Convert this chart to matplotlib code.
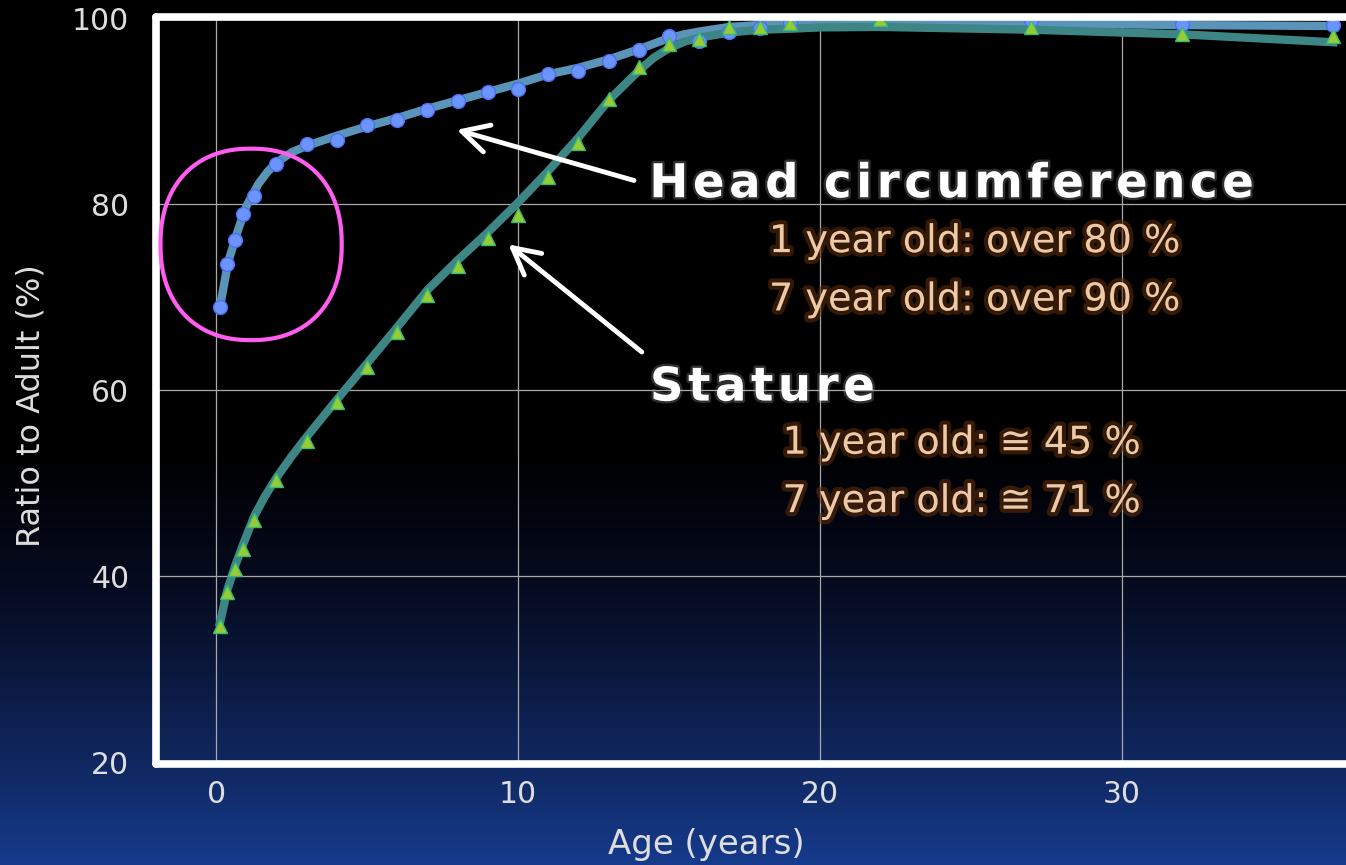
import numpy as np
import matplotlib.pyplot as plt
import matplotlib.patheffects as pe
from matplotlib.patches import Polygon

# measured points, ratio to adult size (%)
head_age = [0.13, 0.37, 0.64, 0.88, 1.27, 2, 3, 4, 5, 6, 7, 8, 9, 10, 11, 12, 13,
            14, 15, 16, 17, 18, 19, 22, 27, 32, 37]
head_pct = [69.0, 73.6, 76.2, 79.0, 80.9, 84.4, 86.5, 86.9, 88.5, 89.1, 90.2, 91.1,
            92.1, 92.4, 94.05, 94.4, 95.4, 96.6, 98.1, 97.6, 98.6, 99.0, 99.6, 100.3,
            99.8, 99.4, 99.35]
stat_age = [0.13, 0.37, 0.64, 0.88, 1.27, 2, 3, 4, 5, 6, 7, 8, 9, 10, 11, 12, 13,
            14, 15, 16, 17, 18, 19, 22, 27, 32, 37]
stat_pct = [34.6, 38.25, 40.8, 42.9, 46.1, 50.3, 54.5, 58.7, 62.5, 66.3, 70.3, 73.4,
            76.4, 78.9, 83.0, 86.6, 91.3, 94.8, 97.3, 97.8, 99.1, 99.1, 99.5, 99.97,
            99.07, 98.3, 98.1]

# smoothed trend curves as drawn on the slide
head_fit_age = [0.13, 0.4, 0.7, 1.0, 1.4, 1.7, 2, 2.5, 3, 4, 5, 6, 7, 8, 9, 10, 11,
                12, 13, 14, 14.5, 15, 15.5, 16, 17, 18, 19, 22, 27, 32, 37]
head_fit_pct = [69.0, 73.8, 77.0, 79.8, 82.2, 83.5, 84.5, 85.6, 86.3, 87.4, 88.4,
                89.3, 90.3, 91.2, 92.1, 93.0, 94.0, 94.7, 95.6, 96.7, 97.3, 97.9,
                98.3, 98.6, 99.1, 99.3, 99.5, 99.6, 99.5, 99.3, 99.2]
stat_fit_age = [0.13, 0.37, 0.64, 0.88, 1.27, 1.6, 2, 2.5, 3, 4, 5, 6, 7, 8, 9, 10,
                11, 12, 13, 14, 14.5, 15, 15.5, 16, 17, 18, 19, 20, 22, 27, 32, 37]
stat_fit_pct = [35.0, 38.5, 41.2, 43.3, 46.5, 48.5, 50.6, 52.9, 55.0, 59.0, 62.9,
                66.8, 70.8, 74.0, 77.0, 80.2, 83.6, 87.2, 91.2, 94.4, 95.8, 96.8,
                97.5, 97.95, 98.5, 98.8, 98.9, 99.05, 99.1, 98.8, 98.3, 97.45]

x_ticks = [0, 10, 20, 30]
y_ticks = [20, 40, 60, 80, 100]

head_title = "Head circumference"
head_notes = ["1 year old: over 80 %", "7 year old: over 90 %"]
stat_title = "Stature"
stat_notes = ["1 year old: \u2245 45 %", "7 year old: \u2245 71 %"]

W, H = 1346, 865
fig = plt.figure(figsize=(W / 100, H / 100), dpi=100)
fig.patch.set_facecolor('black')

# background: black fading to dark blue at the bottom
bg = fig.add_axes([0, 0, 1, 1], zorder=-10)
t = np.linspace(0, 1, H)
stops = [0.0, 0.52, 0.69, 0.88, 1.0]
cols = np.array([[0, 0, 0], [0, 0, 0], [6, 12, 34], [16, 39, 95], [22, 59, 140]]) / 255
grad = np.stack([np.interp(t, stops, cols[:, k]) for k in range(3)], axis=1)
bg.imshow(np.repeat(grad[:, None, :], 4, axis=1), aspect='auto', extent=[0, 1, 0, 1])
bg.set_axis_off()

left, bottom, top = 156.3, 101.5, 848.3
ax = fig.add_axes([left / W, bottom / H, (W - left) / W, (top - bottom) / H])
ax.set_facecolor('none')
ax.set_xlim(-1.98, 37.42)
ax.set_ylim(19.85, 100.2)
ax.set_xticks(x_ticks)
ax.set_yticks(y_ticks)
ax.tick_params(length=0, labelsize=21.5, labelcolor='#dddddd')
ax.tick_params(axis='x', pad=12)
ax.tick_params(axis='y', pad=19.5)
ax.grid(color='#a8a8a8', lw=0.9)
ax.set_axisbelow(True)
for s in ['left', 'top', 'bottom']:
    ax.spines[s].set_color('white')
    ax.spines[s].set_linewidth(5.5)
    ax.spines[s].set_capstyle('round')
ax.spines['right'].set_visible(False)

ax.set_xlabel('Age (years)', fontsize=24.5, color='#dddddd')
ax.xaxis.set_label_coords(0.462, -0.086)
ax.set_ylabel('Ratio to Adult (%)', fontsize=23, color='#dddddd')
ax.yaxis.set_label_coords(-0.092, 0.479)

ax.plot(head_fit_age, head_fit_pct, color='#5a94b8', lw=6, zorder=2.0,
        solid_joinstyle='round')
ax.plot(stat_fit_age, stat_fit_pct, color='#3e8585', lw=6, zorder=2.05,
        solid_joinstyle='round')
ax.plot(head_age, head_pct, 'o', ms=10, mfc='#6b94ff', mec='#4d6ff0', mew=1, zorder=2.1)
ax.plot(stat_age, stat_pct, '^', ms=10.5, mfc='#99cc33', mec='#33bb77', mew=1, zorder=2.2)

# hand-drawn looking rounded loop around the infant head values
th = np.linspace(0, 2 * np.pi, 200)
n = 2.25
cx, cy, rx, ry = 1.16, 75.7, 3.0, 10.3
sx = np.sign(np.cos(th)) * np.abs(np.cos(th)) ** (2 / n)
sy = np.sign(np.sin(th)) * np.abs(np.sin(th)) ** (2 / n)
ax.add_patch(Polygon(np.column_stack([cx + rx * sx, cy + ry * sy]), closed=True,
                     fill=False, ec='#ff5cf0', lw=3, zorder=3, clip_on=False))

arrow = dict(arrowstyle='->,head_length=0.95,head_width=0.5', color='white', lw=3.5,
             mutation_scale=20, shrinkA=0, shrinkB=0, capstyle='round', joinstyle='round')
ax.annotate('', xy=(7.97, 88.03), xytext=(13.84, 82.58), arrowprops=arrow, zorder=4)
ax.annotate('', xy=(9.68, 75.70), xytext=(14.10, 64.12), arrowprops=arrow, zorder=4)

title_fx = [pe.withStroke(linewidth=3.5, foreground='#9a9a9a', alpha=0.3)]
note_fx = [pe.withStroke(linewidth=6, foreground='#5a2a0c', alpha=0.6)]
ax.text(14.35, 80.78, "\u200a".join(head_title), fontsize=33.5, fontweight='bold',
        color='white', va='baseline', path_effects=title_fx, zorder=5)
ax.text(14.37, 58.9, "\u200a".join(stat_title), fontsize=33.5, fontweight='bold',
        color='white', va='baseline', path_effects=title_fx, zorder=5)
for txt, y in zip(head_notes, [74.87, 68.6]):
    ax.text(18.31, y, txt, fontsize=27.5, color='#ecc9a7', va='baseline',
            path_effects=note_fx, zorder=5)
for txt, y in zip(stat_notes, [53.19, 46.9]):
    ax.text(18.76, y, txt, fontsize=27.5, color='#ecc9a7', va='baseline',
            path_effects=note_fx, zorder=5)

fig.savefig('out.png', dpi=100, facecolor=fig.get_facecolor())
